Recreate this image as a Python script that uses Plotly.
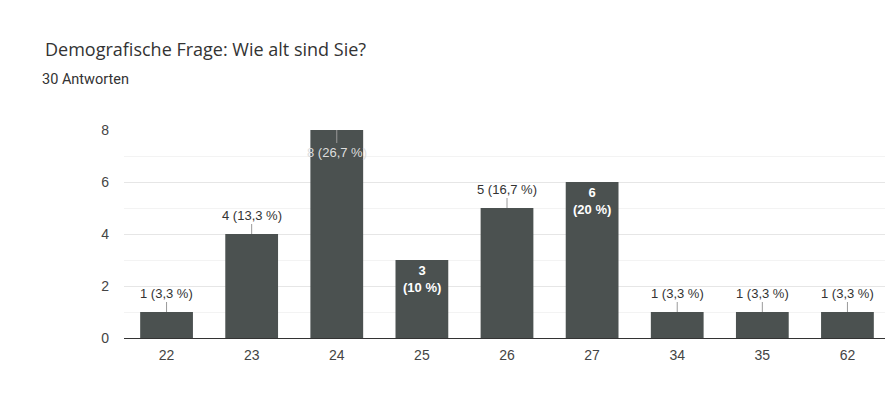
import plotly.graph_objects as go

categories = ["22", "23", "24", "25", "26", "27", "34", "35", "62"]
counts = [1, 4, 8, 3, 5, 6, 1, 1, 1]
labels = ["1 (3,3 %)", "4 (13,3 %)", "8 (26,7 %)", "3<br>(10 %)", "5 (16,7 %)",
          "6<br>(20 %)", "1 (3,3 %)", "1 (3,3 %)", "1 (3,3 %)"]
label_mode = ["out", "out", "top", "in", "out", "in", "out", "out", "out"]

bar_color = "#4b5150"
# page body has an 8px margin, so the figure is drawn 8px in from the window edge
W, H = 885, 403
ml, mr, mt, mb = 116, 3, 122, 73
pw = W - ml - mr
ph = H - mt - mb

FONT = "Arial, Liberation Sans, sans-serif"

idx = list(range(len(categories)))
fig = go.Figure(go.Bar(x=idx, y=counts, marker_color=bar_color,
                       marker_line_width=0, width=0.62, hoverinfo="skip"))

annotations = []
for i, v, t, m in zip(idx, counts, labels, label_mode):
    if m == "out":
        annotations.append(dict(x=i, y=v, xref="x", yref="y", text=t, showarrow=True,
                                arrowhead=0, arrowwidth=1, arrowcolor="#9a9a9a",
                                ax=0, ay=-19, standoff=0,
                                font=dict(family=FONT, size=13, color="#333333")))
    elif m == "in":
        annotations.append(dict(x=i, y=v, xref="x", yref="y", text="<b>" + t + "</b>",
                                showarrow=False, yanchor="top", yshift=-1,
                                font=dict(family=FONT, size=13, color="#ffffff")))
    else:
        annotations.append(dict(x=i, y=v, xref="x", yref="y", text=t, showarrow=True,
                                arrowhead=0, arrowwidth=1, arrowcolor="#9a9a9a",
                                ax=0, ay=22, standoff=0,
                                font=dict(family=FONT, size=13, color="#dedede")))

annotations.append(dict(xref="paper", yref="paper", x=(32 - ml) / pw, y=(H - mb - 71) / ph,
                        xanchor="left", yanchor="middle", showarrow=False,
                        text="30 Antworten",
                        font=dict(family="Roboto, Arial", size=14.5, color="#333333")))

fig.update_layout(
    width=W, height=H,
    margin=dict(l=ml, r=mr, t=mt, b=mb, autoexpand=False),
    paper_bgcolor="white", plot_bgcolor="white",
    title=dict(text="Demografische Frage: Wie alt sind Sie?", xref="container", yref="container",
               x=37 / W, y=1 - 42 / H, xanchor="left", yanchor="middle",
               font=dict(family="Open Sans, Roboto", size=18, color="#333333")),
    showlegend=False,
    annotations=annotations,
    xaxis=dict(range=[-0.5, len(categories) - 0.5], tickvals=idx, ticktext=categories,
               showgrid=False, showline=True, linecolor="#333333", linewidth=1,
               ticks="", tickfont=dict(family=FONT, size=14, color="#444444"),
               ticklabelstandoff=4, zeroline=False),
    yaxis=dict(range=[0, 8], tickvals=[0, 2, 4, 6, 8], showgrid=True, gridcolor="#e6e6e6",
               zeroline=False, ticks="", ticklabelstandoff=14,
               minor=dict(dtick=1, showgrid=True, gridcolor="#f3f3f3"),
               tickfont=dict(family=FONT, size=14, color="#444444")),
)

fig.write_html("out.html")
